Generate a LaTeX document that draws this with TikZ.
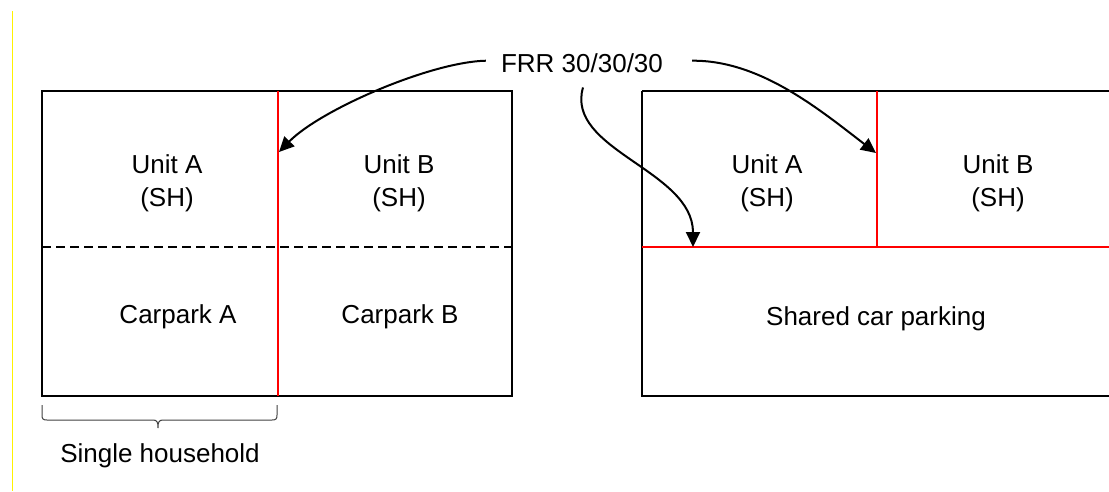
\documentclass[tikz,border=0pt]{standalone}
\usepackage{fontspec}
\setmainfont{Liberation Sans}
\usetikzlibrary{arrows.meta}
\begin{document}
\begin{tikzpicture}[x=1pt,y=-1pt,
  lbl/.style={font=\fontsize{26}{33}\selectfont, inner sep=0pt, align=center, text=black},
  wall/.style={draw=black, line width=1.1pt},
  fire/.style={draw=red, line width=2.3pt},
  conn/.style={draw=black, line width=2pt, -{Triangle[length=15pt,width=14pt]}},
  bracestyle/.style={draw=black!75, line width=1pt},
  divider/.style={draw=black, line width=1.1pt, dash pattern=on 9pt off 5pt}]
\useasboundingbox (0,0) rectangle (1109,491);
% yellow margin line
\draw[yellow, line width=1pt] (12.5,11) -- (12.5,491);
% left building
\draw[wall] (42,91) rectangle (512,396);
\draw[divider] (42,247) -- (512,247);
\draw[fire] (278,91) -- (278,396);
% right building
\draw[wall] (642,91) -- (1115,91);
\draw[wall] (642,91) -- (642,396) -- (1115,396);
\draw[fire] (642,247) -- (1115,247);
\draw[fire] (877,91) -- (877,247);
% labels
\node[lbl] (ua1) at (167,183) {Unit A\\(SH)};
\node[lbl] (ub1) at (399,183) {Unit B\\(SH)};
\node[lbl, anchor=base] (ca) at (178,323) {Carpark A};
\node[lbl, anchor=base] (cb) at (400,323) {Carpark B};
\node[lbl] (ua2) at (767,183) {Unit A\\(SH)};
\node[lbl] (ub2) at (998,183) {Unit B\\(SH)};
\node[lbl, anchor=base] (scp) at (876,325) {Shared car parking};
\node[lbl, anchor=base] (frr) at (582,72) {FRR 30/30/30};
\node[lbl, anchor=base] (sh) at (160,462) {Single household};
% brace
\coordinate (bL) at (42,405);
\coordinate (bT) at (158,428);
\coordinate (bR) at (277,405);
\draw[bracestyle] (bL) -- (42,415) .. controls (42,419) and (43,420) .. (47,420)
  -- (153,420) .. controls (157,420) and (158,422) .. (bT)
  .. controls (158,422) and (159,420) .. (163,420)
  -- (272,420) .. controls (276,420) and (277,419) .. (277,415) -- (bR);
% arrow targets
\coordinate (t1) at (279,152);
\coordinate (t2) at (876,153);
\coordinate (t3) at (693,247);
% connectors
\draw[conn] ([xshift=-15pt,yshift=2pt]frr.west) .. controls (430,62) and (320,110) .. (t1);
\draw[conn] ([xshift=29pt,yshift=2pt]frr.east) .. controls (760,60) and (820,110) .. (t2);
\draw[conn] ([xshift=1pt,yshift=-15pt]frr.south) .. controls (565,150) and (693,170) .. (t3);
\end{tikzpicture}
\end{document}
